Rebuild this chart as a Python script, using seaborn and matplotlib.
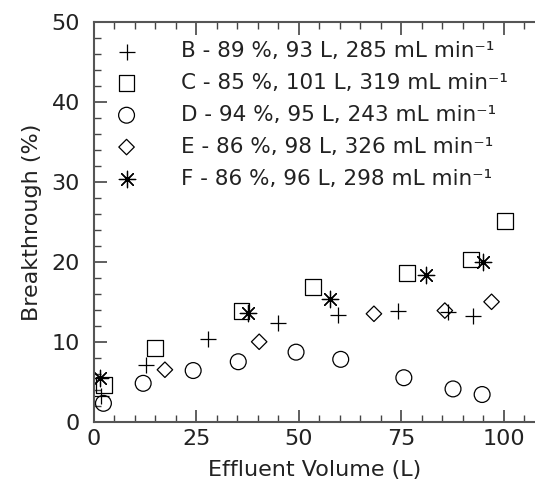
import matplotlib
matplotlib.use("Agg")
import matplotlib.pyplot as plt
import seaborn as sns
import pandas as pd
from matplotlib.ticker import MultipleLocator

# series (effluent volume L, breakthrough %)
b_x = [1.6, 12.8, 27.9, 45.0, 59.6, 74.2, 86.4, 92.5]
b_y = [3.2, 7.1, 10.3, 12.4, 13.4, 13.9, 13.7, 13.2]
c_x = [2.4, 14.9, 36.0, 53.5, 76.4, 92.0, 100.2]
c_y = [4.6, 9.2, 13.9, 16.9, 18.6, 20.3, 25.1]
d_x = [2.3, 12.0, 24.2, 35.2, 49.3, 60.2, 75.6, 87.6, 94.7]
d_y = [2.3, 4.8, 6.4, 7.5, 8.7, 7.8, 5.5, 4.1, 3.4]
e_x = [17.3, 40.3, 68.3, 85.6, 97.0]
e_y = [6.5, 10.0, 13.5, 13.9, 15.0]
f_x = [1.5, 37.6, 57.7, 81.0, 94.8]
f_y = [5.5, 13.6, 15.3, 18.3, 20.0]

labels = ["B - 89 %, 93 L, 285 mL min\u207b\u00b9",
          "C - 85 %, 101 L, 319 mL min\u207b\u00b9",
          "D - 94 %, 95 L, 243 mL min\u207b\u00b9",
          "E - 86 %, 98 L, 326 mL min\u207b\u00b9",
          "F - 86 %, 96 L, 298 mL min\u207b\u00b9"]

series = [(b_x, b_y, "+", 125, False),
          (c_x, c_y, "s", 130, True),
          (d_x, d_y, "o", 130, True),
          (e_x, e_y, "D", 62, True),
          (f_x, f_y, (8, 2, 0), 140, False)]

sns.set_style("ticks")
plt.rcParams["font.family"] = ["DejaVu Sans"]

fig = plt.figure(figsize=(5.35, 4.84), dpi=100)
ax = fig.add_axes([94 / 535, 62.3 / 484, 1 - 94 / 535, (421.7 - 22) / 484])

for (xs, ys, m, s, filled), lab in zip(series, labels):
    df = pd.DataFrame({"x": xs, "y": ys})
    if filled:
        sns.scatterplot(data=df, x="x", y="y", marker=m, s=s, facecolors="none",
                        edgecolor="black", linewidth=0.9, label=lab, ax=ax)
    else:
        sns.scatterplot(data=df, x="x", y="y", marker=m, s=s, color="black",
                        linewidth=0.9, label=lab, ax=ax)

ax.set_xlim(0, 107.6)
ax.set_ylim(0, 50)
ax.xaxis.set_major_locator(MultipleLocator(25))
ax.xaxis.set_minor_locator(MultipleLocator(5))
ax.yaxis.set_major_locator(MultipleLocator(10))
ax.yaxis.set_minor_locator(MultipleLocator(2))
ax.tick_params(which="both", direction="in", top=True, right=False,
               color="#444444", labelsize=16, labelcolor="#222222")
ax.tick_params(which="major", length=9, width=1.2)
ax.tick_params(which="minor", length=5, width=1.0)
ax.tick_params(axis="x", which="major", pad=5)
ax.tick_params(axis="y", which="major", pad=10)
for side in ["left", "bottom", "top"]:
    ax.spines[side].set_color("#555555")
    ax.spines[side].set_linewidth(1.5)
ax.spines["right"].set_visible(False)

ax.set_xlabel("Effluent Volume (L)", fontsize=16, color="#222222", labelpad=8)
ax.set_ylabel("Breakthrough (%)", fontsize=16, color="#222222", labelpad=7)

ax.legend(loc="upper left", bbox_to_anchor=(0.025, 0.952), frameon=False,
          fontsize=15.5, handletextpad=1.55, labelspacing=0.55, borderpad=0,
          borderaxespad=0, labelcolor="#222222")

fig.savefig("out.png", dpi=100)
